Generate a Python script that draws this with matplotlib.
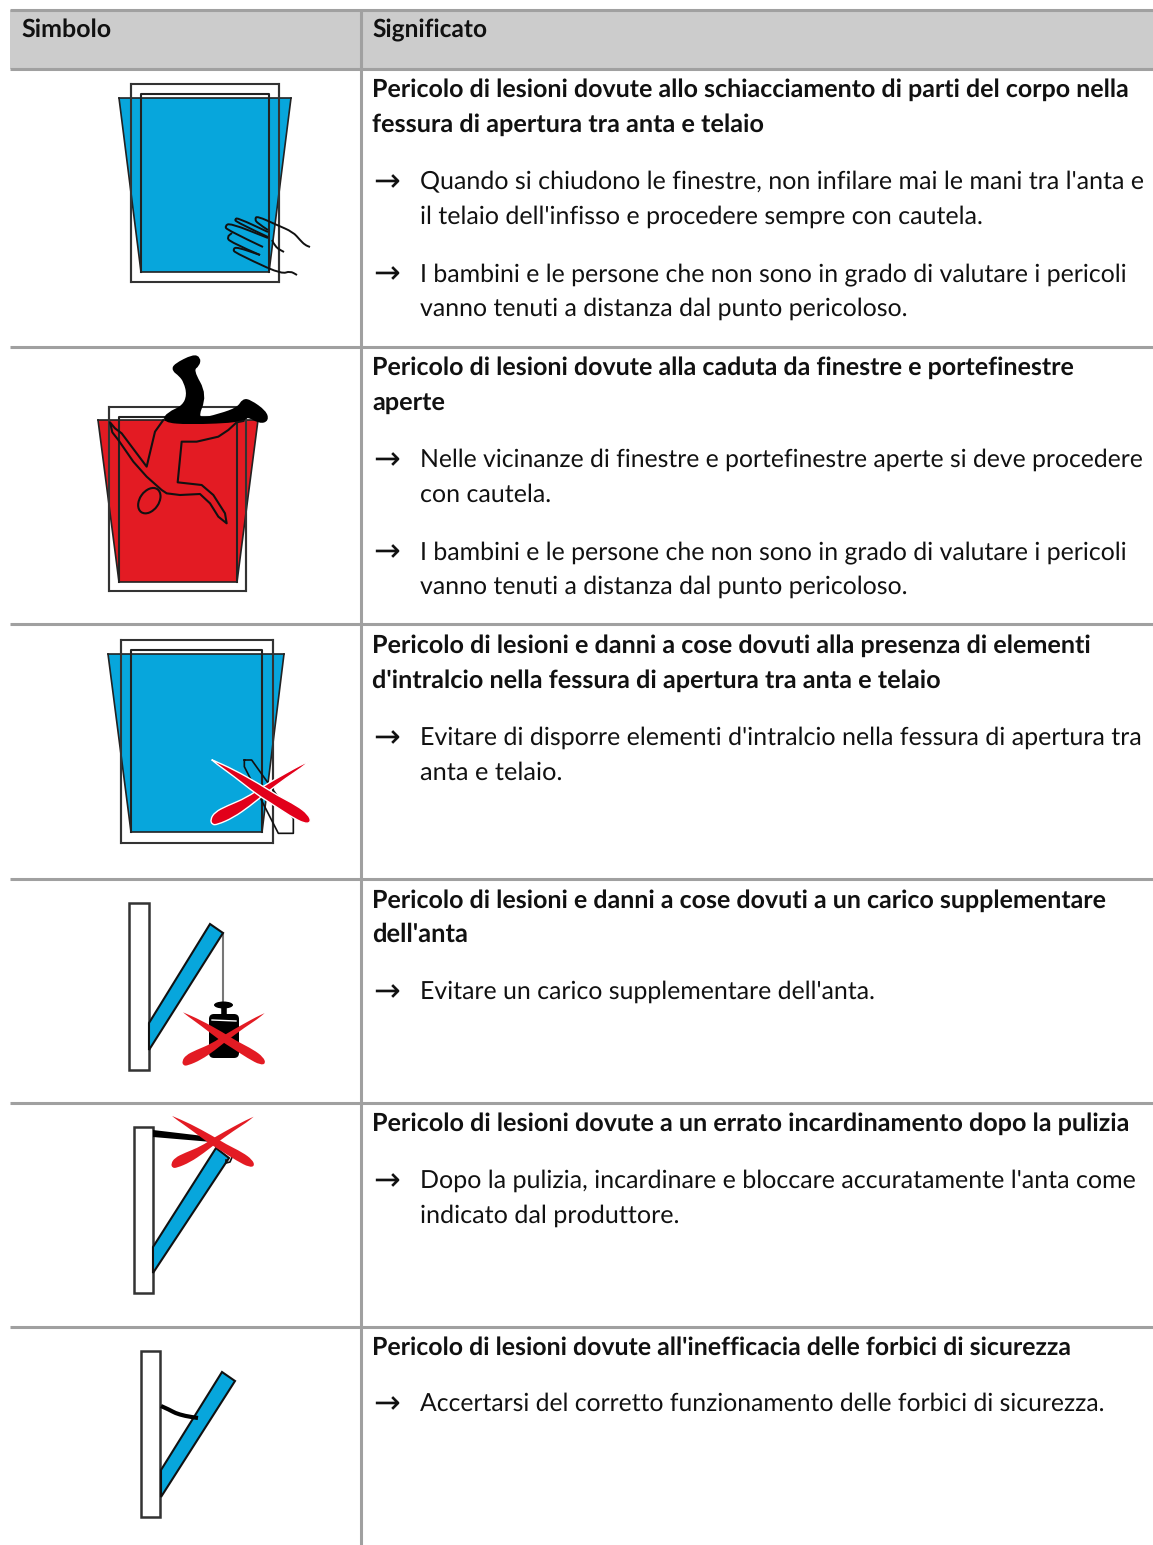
import matplotlib
matplotlib.use('Agg')
import matplotlib.pyplot as plt
from matplotlib.path import Path
from matplotlib.patches import PathPatch, Polygon, Rectangle, Ellipse, FancyBboxPatch

plt.rcParams['text.hinting'] = 'no_hinting'

WIDTH = 1153
HEIGHT = 1545

BLUE = '#07a6dc'
RED = '#e31b23'
CROSS_RED = '#e2001a'
RULE = '#a0a0a0'
HEADER = '#cccccc'
INK = '#111111'

HEADERS = [(21, 37, 'Simbolo', 111), (372, 37, 'Significato', 487)]
ROW_RULES = [10, 69, 347, 624, 879, 1103, 1327]

# (baseline, text, right edge of the line)
BOLD_LINES = [
    (97, 'Pericolo di lesioni dovute allo schiacciamento di parti del corpo nella', 1131),
    (132, 'fessura di apertura tra anta e telaio', 764),
    (375, 'Pericolo di lesioni dovute alla caduta da finestre e portefinestre', 1076),
    (410, 'aperte', 445),
    (653, 'Pericolo di lesioni e danni a cose dovuti alla presenza di elementi', 1091),
    (688, "d'intralcio nella fessura di apertura tra anta e telaio", 942),
    (908, 'Pericolo di lesioni e danni a cose dovuti a un carico supplementare', 1108),
    (942, "dell'anta", 468),
    (1131, 'Pericolo di lesioni dovute a un errato incardinamento dopo la pulizia', 1130),
    (1355, "Pericolo di lesioni dovute all'inefficacia delle forbici di sicurezza", 1073),
]
BODY_LINES = [
    (189, "Quando si chiudono le finestre, non infilare mai le mani tra l'anta e", 1143),
    (224, "il telaio dell'infisso e procedere sempre con cautela.", 981),
    (281, 'I bambini e le persone che non sono in grado di valutare i pericoli', 1126),
    (316, 'vanno tenuti a distanza dal punto pericoloso.', 908),
    (467, 'Nelle vicinanze di finestre e portefinestre aperte si deve procedere', 1142),
    (502, 'con cautela.', 551),
    (559, 'I bambini e le persone che non sono in grado di valutare i pericoli', 1126),
    (594, 'vanno tenuti a distanza dal punto pericoloso.', 908),
    (745, "Evitare di disporre elementi d'intralcio nella fessura di apertura tra", 1141),
    (780, 'anta e telaio.', 562),
    (999, "Evitare un carico supplementare dell'anta.", 877),
    (1188, "Dopo la pulizia, incardinare e bloccare accuratamente l'anta come", 1135),
    (1223, 'indicato dal produttore.', 679),
    (1411, 'Accertarsi del corretto funzionamento delle forbici di sicurezza.', 1105),
]
ARROW_ROWS = [180, 272, 458, 550, 736, 990, 1179, 1402]

# window symbols: outer frame, inner frame, (top width edges) in pixels
WINDOW_1 = dict(outer=(131, 84, 279, 282), inner=(141, 94, 269, 272), top=(119, 291, 98))
WINDOW_2 = dict(outer=(109, 407, 246, 591), inner=(119, 417, 237, 582), top=(98, 258, 420))
WINDOW_3 = dict(outer=(121, 640, 273, 843), inner=(131, 650, 262, 832), top=(108, 284, 654))

# hand of the first symbol
HAND_LINES = [
    [(268, 230), (257, 223), (255, 219), (257, 216), (277, 225), (293, 232), (300, 240), (305, 245), (310, 247)],
    [(268, 237), (236, 222), (235, 219), (238, 218), (268, 232)],
    [(263, 247), (227, 230), (225, 226), (230, 223), (268, 238)],
    [(260, 255), (230, 242), (227, 237), (232, 233)],
    [(268, 268), (235, 253), (233, 249), (237, 247), (260, 255)],
    [(268, 268), (282, 274), (290, 271), (297, 275)],
    [(272, 240), (275, 247), (284, 252)],
]

# falling figure, coordinates of the 3x crop at (80, 345)
LEGS = [(250, 228), (265, 205), (310, 185), (325, 150), (315, 110), (300, 90), (280, 75), (285, 60),
        (340, 32), (358, 40), (355, 60), (335, 75), (378, 150), (345, 228), (420, 210), (475, 190),
        (490, 165), (510, 168), (555, 200), (562, 225), (540, 232), (500, 210), (490, 228), (325, 235)]
BODY = [(250, 225), (225, 260), (200, 365), (170, 325), (125, 265), (105, 250), (90, 232), (97, 262),
        (115, 285), (160, 350), (200, 395), (245, 435), (260, 445), (300, 450), (360, 447), (390, 475),
        (415, 515), (440, 535), (435, 505), (400, 450), (365, 420), (293, 412), (305, 290), (350, 290),
        (415, 275), (445, 255), (470, 232), (490, 228)]

# wedge of the third symbol, crop at (100, 630)
WEDGE = [(433, 390), (433, 410), (535, 610), (580, 610), (580, 565), (455, 390), (433, 390)]

# cross blades, coordinates of the crop at (100, 630)
BLADE_A = [(630, 394), (630, 394), (600, 408), (560, 430), (490, 470), (440, 505), (380, 530), (345, 548),
           (331, 570), (336, 586), (352, 586), (400, 565), (450, 530), (490, 497), (560, 445), (604, 416)]
BLADE_B = [(335, 391), (335, 391), (400, 420), (480, 465), (530, 497), (590, 528), (625, 555), (634, 578),
           (615, 584), (570, 560), (510, 520), (470, 495), (400, 440), (350, 404)]
CROSS_CENTER = (483, 485)

# side view symbols: wall rectangle and sash, in pixels
WALL_4 = (129, 903, 149, 1070)
SASH_4 = [(210, 924), (223, 933), (149, 1050), (149, 1023)]
WALL_5 = (134, 1127, 153, 1293)
SASH_5 = [(216, 1148), (229, 1158), (153, 1273), (153, 1247)]
BAR_5 = [(153, 1130), (212, 1137), (212, 1142), (153, 1137)]
HOOK_5 = [(226, 1160), (226, 1163), (230, 1162), (233, 1155)]
WALL_6 = (141, 1351, 160, 1517)
SASH_6 = [(222, 1372), (235, 1381), (161, 1497), (161, 1470)]
ARM_6 = [(161, 1406), (170, 1410), (175, 1413), (185, 1416), (198, 1418)]


def crop(points, x0, y0):
    return [(x0 + x / 3, y0 + y / 3) for x, y in points]


def smooth_path(points, closed=False):
    """Quadratic curve through the midpoints, the points act as control points"""
    mid = lambda a, b: ((a[0] + b[0]) / 2, (a[1] + b[1]) / 2)
    if closed:
        verts = [mid(points[-1], points[0])]
        codes = [Path.MOVETO]
        for i, p in enumerate(points):
            verts += [p, mid(p, points[(i + 1) % len(points)])]
            codes += [Path.CURVE3, Path.CURVE3]
        return Path(verts, codes)
    verts = [points[0]]
    codes = [Path.MOVETO]
    for i in range(1, len(points) - 1):
        verts += [points[i], mid(points[i], points[i + 1])]
        codes += [Path.CURVE3, Path.CURVE3]
    verts.append(points[-1])
    codes.append(Path.LINETO)
    return Path(verts, codes)


def draw_window(ax, spec, color):
    x0, y0, x1, y1 = spec['outer']
    ax.add_patch(Rectangle((x0, y0), x1 - x0, y1 - y0, fc='white', ec='#333333', lw=1.5, zorder=2))
    ix0, iy0, ix1, iy1 = spec['inner']
    left, right, top = spec['top']
    ax.add_patch(Polygon([(left, top), (right, top), (ix1, iy1), (ix0, iy1)], fc=color, ec='none', zorder=3))
    ax.plot([left, right], [top, top], color='#222222', lw=1.2, zorder=4)
    ax.plot([left, ix0, ix1, right], [top, iy1, iy1, top], color='#222222', lw=1.2, zorder=4)
    ax.plot([ix0, ix0, ix1, ix1], [iy1, iy0, iy0, iy1], color='#222222', lw=1.5, zorder=4)
    ax.plot([x0, x0], [y0, y1], color='#333333', lw=1.5, zorder=4)
    ax.plot([x1, x1], [y0, y1], color='#333333', lw=1.5, zorder=4)


def draw_cross(ax, center, scale_x, scale_y, color=CROSS_RED, halo=0.0):
    for blade in (BLADE_A, BLADE_B):
        pts = [(center[0] + (x - CROSS_CENTER[0]) / 3 * scale_x,
                center[1] + (y - CROSS_CENTER[1]) / 3 * scale_y) for x, y in blade]
        ax.add_patch(PathPatch(smooth_path(pts, closed=True), fc=color,
                               ec='white' if halo else 'none', lw=halo, zorder=8))


def draw_side(ax, wall, sash):
    x0, y0, x1, y1 = wall
    ax.add_patch(Rectangle((x0, y0), x1 - x0, y1 - y0, fc='white', ec='#333333', lw=1.8, zorder=3))
    ax.add_patch(Polygon(sash, fc=BLUE, ec='#111111', lw=1.5, joinstyle='miter', zorder=4))


def put_line(x, baseline, line, right, weight='normal'):
    """Write a line so that it ends at the given right edge"""
    size = 16.0
    text = ax.text(x, baseline, line, fontsize=size, family='Lato', weight=weight, color=INK, zorder=6)
    for _ in range(3):
        extent = text.get_window_extent(renderer)
        size *= (right - x) / extent.width
        text.set_fontsize(size)


fig = plt.figure(figsize=(WIDTH / 100, HEIGHT / 100), dpi=100, facecolor='white')
ax = fig.add_axes([0, 0, 1, 1])
ax.set_xlim(0, WIDTH)
ax.set_ylim(HEIGHT, 0)
ax.axis('off')
renderer = fig.canvas.get_renderer()

# table
ax.add_patch(Rectangle((10, 10), WIDTH - 10, 59, fc=HEADER, ec='none', zorder=1))
for y in ROW_RULES:
    ax.plot([10, WIDTH], [y, y], color=RULE, lw=2.2, solid_capstyle='butt', zorder=5)
ax.plot([361, 361], [10, HEIGHT], color=RULE, lw=2.2, solid_capstyle='butt', zorder=5)

for x, baseline, line, right in HEADERS:
    put_line(x, baseline, line, right, 'bold')
for baseline, line, right in BOLD_LINES:
    put_line(372, baseline, line, right, 'bold')
for baseline, line, right in BODY_LINES:
    put_line(420, baseline, line, right)
for y in ARROW_ROWS:
    ax.text(373, y + 2, '\u2192', fontsize=23, family='DejaVu Sans', color=INK, va='center', zorder=6)

# symbol 1
draw_window(ax, WINDOW_1, BLUE)
for line in HAND_LINES:
    ax.add_patch(PathPatch(smooth_path(line), fc='none', ec='#111111', lw=1.4, zorder=6))

# symbol 2
draw_window(ax, WINDOW_2, RED)
ax.add_patch(PathPatch(smooth_path(crop(LEGS, 80, 345), closed=True), fc='black', ec='black', lw=2.0, zorder=6))
ax.plot(*zip(*crop(BODY, 80, 345)), color='#111111', lw=1.5, zorder=6)
ax.add_patch(Ellipse((80 + 208 / 3, 345 + 467 / 3), 19, 28, angle=35, fc='none', ec='#111111', lw=1.5, zorder=6))

# symbol 3
draw_window(ax, WINDOW_3, BLUE)
ax.plot(*zip(*crop(WEDGE, 100, 630)), color='#111111', lw=1.2, zorder=6)
draw_cross(ax, (261, 791), 1.0, 1.0, halo=1.0)

# symbol 4
draw_side(ax, WALL_4, SASH_4)
ax.plot([223, 223], [933, 1002], color='#777777', lw=1.5, zorder=3)
ax.add_patch(Ellipse((223.5, 1005), 19, 7, fc='black', ec='none', zorder=5))
ax.plot([223.5, 223.5], [1005, 1015], color='black', lw=4, zorder=5)
ax.add_patch(FancyBboxPatch((209, 1014), 30, 44, boxstyle='round,pad=0,rounding_size=5', fc='black', ec='none', zorder=5))
ax.plot([212, 236], [1020, 1021], color='white', lw=1.0, zorder=6)
draw_cross(ax, (224, 1038), 0.83, 0.82, color=RED)

# symbol 5
draw_side(ax, WALL_5, SASH_5)
ax.add_patch(Polygon(BAR_5, fc='black', ec='none', zorder=5))
ax.plot(*zip(*HOOK_5), color='#111111', lw=1.2, zorder=5)
draw_cross(ax, (213, 1141), 0.83, 0.80, color=RED)

# symbol 6
draw_side(ax, WALL_6, SASH_6)
ax.add_patch(PathPatch(smooth_path(ARM_6), fc='none', ec='black', lw=3.0, zorder=5))

fig.savefig('out.png', dpi=100)
